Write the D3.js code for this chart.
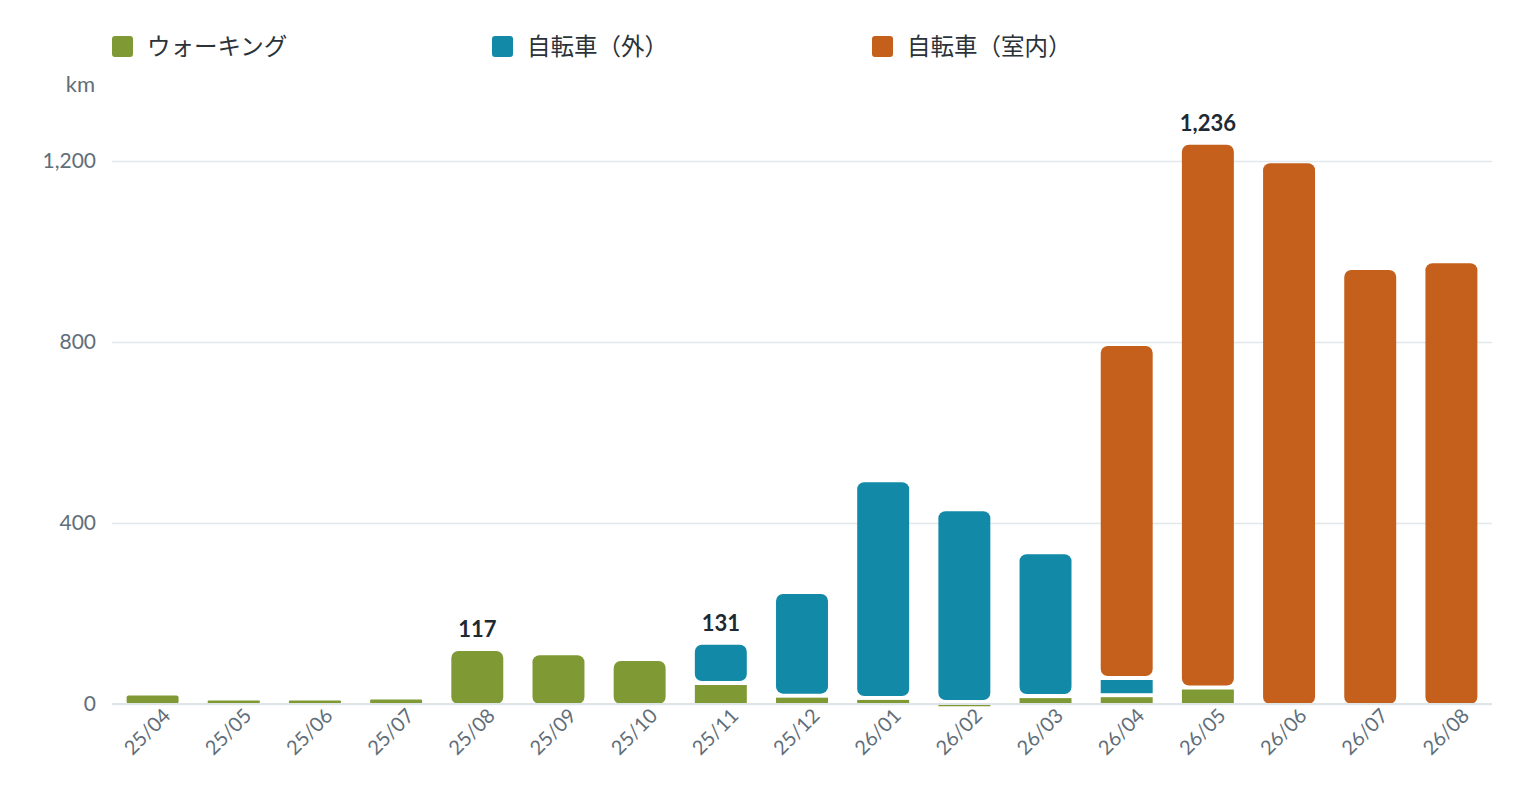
<!DOCTYPE html>
<html>
<head>
<meta charset="utf-8">
<script src="https://cdn.jsdelivr.net/npm/d3@7"></script>
<style>
  body { margin: 0; background: #fff; }
  text { font-family: "Lato", "Noto Sans CJK JP", sans-serif; }
</style>
</head>
<body>
<div id="chart"></div>
<script>
// data (km per month)
const months = ["25/04","25/05","25/06","25/07","25/08","25/09","25/10","25/11","25/12",
                "26/01","26/02","26/03","26/04","26/05","26/06","26/07","26/08"]
const walking  = [19, 8, 8, 10, 117, 108, 95, 42, 14, 9, -5, 13, 15, 32, 0, 0, 0]
const bikeOut  = [0, 0, 0, 0, 0, 0, 0, 89, 229, 481, 426, 318, 38, 0, 0, 0, 0]
const bikeIn   = [0, 0, 0, 0, 0, 0, 0, 0, 0, 0, 0, 0, 738, 1204, 1195, 959, 974]
const seriesNames = ["ウォーキング", "自転車（外）", "自転車（室内）"]
const yTicks = [0, 400, 800, 1200]
const labelled = ["25/08", "25/11", "26/05"]

const colors = ["#7f9a35", "#1289a7", "#c4601b"]

const width = 1520, height = 800
const plot = { left: 112, right: 1492, top: 161, bottom: 704 }

const svg = d3.select("#chart").append("svg")
  .attr("width", width)
  .attr("height", height)

svg.append("rect").attr("width", width).attr("height", height).attr("fill", "#fff")

// scales
const x = d3.scaleBand()
  .domain(months)
  .range([plot.left, plot.right])
  .paddingInner(0.36)
  .paddingOuter(0.18)

const y = d3.scaleLinear()
  .domain([0, 1200])
  .range([plot.bottom, plot.top])

// grid + y labels
const yAxis = svg.append("g")
  .attr("transform", `translate(${plot.left},0)`)
  .call(d3.axisLeft(y).tickValues(yTicks).tickSize(-(plot.right - plot.left)).tickFormat(d3.format(",")))
yAxis.select(".domain").remove()
yAxis.selectAll(".tick line").attr("stroke", "#e3e8ea").attr("stroke-width", 1.5)
yAxis.selectAll(".tick text")
  .attr("x", -16)
  .attr("fill", "#5f6e79")
  .style("font-size", "21px")

svg.append("text")
  .attr("x", 95).attr("y", 92)
  .attr("text-anchor", "end")
  .attr("fill", "#5f6e79")
  .style("font-size", "22px")
  .text("km")

// stacked bars
const table = months.map((m, i) => ({ month: m, s0: walking[i], s1: bikeOut[i], s2: bikeIn[i] }))
const keys = ["s0", "s1", "s2"]
const stacked = d3.stack().keys(keys).offset(d3.stackOffsetDiverging)(table)

const segs = []
stacked.forEach((layer, k) => {
  layer.forEach((d, i) => {
    const v = table[i][keys[k]]
    if (v === 0) return
    const before = keys.slice(0, k).some(kk => table[i][kk] !== 0)
    const after = keys.slice(k + 1).some(kk => table[i][kk] > 0)
    segs.push({ k, month: months[i], y0: d[0], y1: d[1], inset: before ? 4 : 0, top: v > 0 && !after })
  })
})

svg.append("g").selectAll("rect")
  .data(segs)
  .join("rect")
    .attr("x", d => x(d.month))
    .attr("width", x.bandwidth())
    .attr("y", d => Math.min(y(d.y0), y(d.y1)))
    .attr("height", d => Math.max(0.5, Math.abs(y(d.y0) - y(d.y1)) - d.inset))
    .attr("rx", d => d.top ? Math.min(7, Math.abs(y(d.y0) - y(d.y1)) / 4) : 0)
    .attr("fill", d => colors[d.k])

// zero line
svg.append("line")
  .attr("x1", plot.left).attr("x2", plot.right)
  .attr("y1", y(0)).attr("y2", y(0))
  .attr("stroke", "#dfe5e7").attr("stroke-width", 2)

// data labels on totals
svg.append("g").selectAll("text")
  .data(table.filter(d => labelled.includes(d.month)))
  .join("text")
    .attr("x", d => x(d.month) + x.bandwidth() / 2)
    .attr("y", d => y(Math.max(0, d.s0) + d.s1 + d.s2) - 14)
    .attr("text-anchor", "middle")
    .attr("fill", "#1d2a33")
    .style("font-size", "22px")
    .style("font-weight", "bold")
    .text(d => d3.format(",")(Math.max(0, d.s0) + d.s1 + d.s2))

// x labels
svg.append("g").selectAll("text")
  .data(months)
  .join("text")
    .attr("transform", d => `translate(${x(d) + x.bandwidth() / 2 + 19},${plot.bottom + 13}) rotate(-45)`)
    .attr("text-anchor", "end")
    .attr("fill", "#5f6e79")
    .style("font-size", "20px")
    .text(d => d)

// legend
const legend = svg.append("g").selectAll("g")
  .data(seriesNames)
  .join("g")
    .attr("transform", (d, i) => `translate(${112 + i * 380},36)`)
legend.append("rect")
  .attr("width", 21).attr("height", 21).attr("rx", 3)
  .attr("fill", (d, i) => colors[i])
legend.append("text")
  .attr("x", 35).attr("y", 19)
  .attr("fill", "#2b3238")
  .style("font-size", "23.5px")
  .style("font-family", "'Noto Sans CJK JP', sans-serif")
  .text(d => d)
</script>
</body>
</html>
